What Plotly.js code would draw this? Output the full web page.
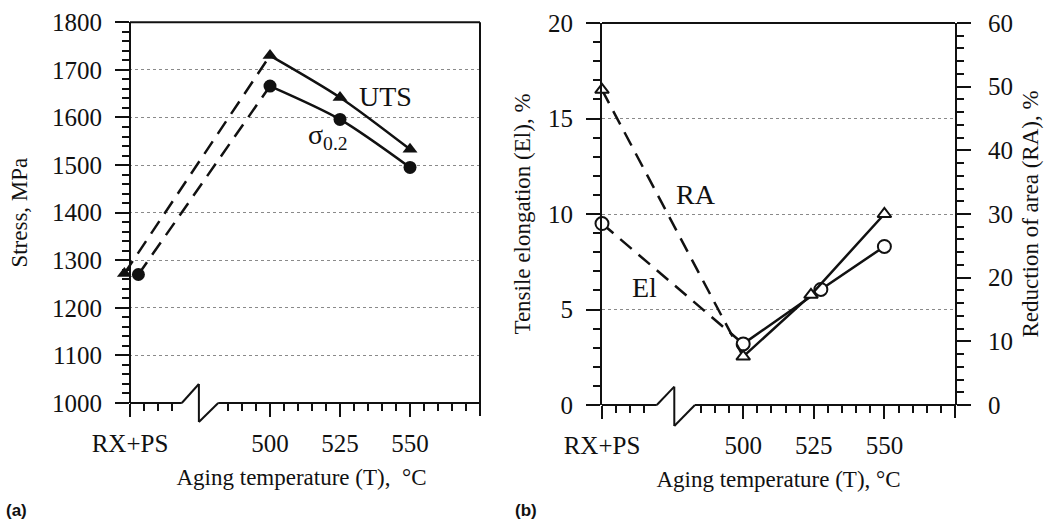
<!DOCTYPE html>
<html>
<head>
<meta charset="utf-8">
<script src="https://cdn.plot.ly/plotly-3.0.1.min.js"></script>
<style>
  html, body { margin: 0; padding: 0; background: #fff; }
  #chart { width: 1047px; height: 525px; }
</style>
</head>
<body>
<div id="chart"></div>
<script>
// Aging-temperature series. The as-received state (RX+PS) sits in the slot at 450 on the
// temperature axis; points that share a slot are nudged apart a little, as in the figure.
const tickSlots = [450, 500, 525, 550];
const tickLabels = ['RX+PS', '500', '525', '550'];

// (a) strength, MPa
const utsT = [448, 500, 525, 550];
const uts = [1272, 1730, 1642, 1533];
const ysT = [453, 500, 525, 550];
const ys = [1270, 1666, 1596, 1495];

// (b) ductility, %
const elT = [450, 500, 527.5, 550];
const el = [9.5, 3.2, 6.05, 8.3];
const raT = [450, 500, 524, 550];
const ra = [49.5, 7.6, 17.3, 30];

const W = 1047, H = 525;
const INK = '#111';
const SERIF = 'Liberation Serif, Times New Roman, serif';

// panel geometry (pixels)
const A = { left: 123, right: 480, top: 22.3, bottom: 403, xr: [447.5, 575], yr: [1000, 1800], axisX: 450 };
const B = { left: 602, right: 955, top: 23, bottom: 405, xr: [450, 575], yr: [0, 20], axisX: 450 };

// fraction helpers for drawing the broken axis and frame in axis-domain units
const dx = (P, v) => (v - P.xr[0]) / (P.xr[1] - P.xr[0]);
const dy = (P, v) => (v - P.yr[0]) / (P.yr[1] - P.yr[0]);
const TAIL = 13; // end tick below the axis at the right edge, px

const minorX = [455, 460, 465, 485, 490, 495, 505, 510, 515, 520, 530, 535, 540, 545, 555, 560, 565, 570];

function xAxis(P, anchor, titleText) {
  return {
    domain: [P.left / W, P.right / W], range: P.xr, anchor: anchor,
    showline: false, showgrid: false, zeroline: false,
    tickmode: 'array', tickvals: tickSlots, ticktext: tickLabels,
    ticks: 'outside', ticklen: 13, tickwidth: 2, tickcolor: INK,
    minor: { tickmode: 'array', tickvals: minorX, ticks: 'outside', ticklen: 7, tickwidth: 2, tickcolor: INK, showgrid: false },
    tickfont: { family: SERIF, size: 25, color: INK },
    ticklabelstandoff: 5,
    automargin: true,
    title: { text: titleText, font: { family: SERIF, size: 23, color: INK }, standoff: 12 }
  };
}

const dash = '15px,9px';

const traces = [
  // (a) dashed links from RX+PS to 500 °C
  { x: utsT.slice(0, 2), y: uts.slice(0, 2), xaxis: 'x', yaxis: 'y', mode: 'lines', line: { color: INK, width: 2.5, dash: dash } },
  { x: ysT.slice(0, 2), y: ys.slice(0, 2), xaxis: 'x', yaxis: 'y', mode: 'lines', line: { color: INK, width: 2.5, dash: dash } },
  // (a) aged states
  { x: utsT.slice(1), y: uts.slice(1), xaxis: 'x', yaxis: 'y', mode: 'lines', line: { color: INK, width: 2.5, shape: 'spline', smoothing: 0.8 } },
  { x: ysT.slice(1), y: ys.slice(1), xaxis: 'x', yaxis: 'y', mode: 'lines', line: { color: INK, width: 2.5, shape: 'spline', smoothing: 0.8 } },
  { x: utsT, y: uts, xaxis: 'x', yaxis: 'y', mode: 'markers', cliponaxis: false, marker: { symbol: 'triangle-up', size: 13, color: INK } },
  { x: ysT, y: ys, xaxis: 'x', yaxis: 'y', mode: 'markers', cliponaxis: false, marker: { symbol: 'circle', size: 13, color: INK } },

  // (b) elongation (left axis) and reduction of area (right axis)
  { x: elT.slice(0, 2), y: el.slice(0, 2), xaxis: 'x2', yaxis: 'y2', mode: 'lines', line: { color: INK, width: 2.5, dash: dash } },
  { x: raT.slice(0, 2), y: ra.slice(0, 2), xaxis: 'x2', yaxis: 'y3', mode: 'lines', line: { color: INK, width: 2.5, dash: dash } },
  { x: elT.slice(1), y: el.slice(1), xaxis: 'x2', yaxis: 'y2', mode: 'lines', line: { color: INK, width: 2.5 } },
  { x: raT.slice(1), y: ra.slice(1), xaxis: 'x2', yaxis: 'y3', mode: 'lines', line: { color: INK, width: 2.5 } },
  { x: raT, y: ra, xaxis: 'x2', yaxis: 'y3', mode: 'markers', cliponaxis: false, marker: { symbol: 'triangle-up', size: 12, color: '#fff', line: { color: INK, width: 2 } } },
  { x: elT, y: el, xaxis: 'x2', yaxis: 'y2', mode: 'markers', cliponaxis: false, marker: { symbol: 'circle', size: 13, color: '#fff', line: { color: INK, width: 2 } } }
];

// broken x axis line with the zigzag, the top frame and the end tick at the right edge
function frameShapes(P, xr, yr, gapFrom, peakX, peakY, lowY, gapTo) {
  const s = { type: 'line', xref: xr, yref: yr, line: { color: INK, width: 2 }, layer: 'above' };
  const y0 = dy(P, P.yr[0]);
  const tail = -TAIL / (P.bottom - P.top);
  return [
    Object.assign({}, s, { x0: dx(P, P.axisX), x1: dx(P, gapFrom), y0: y0, y1: y0 }),
    Object.assign({}, s, { x0: dx(P, gapFrom), x1: dx(P, peakX), y0: y0, y1: dy(P, peakY) }),
    Object.assign({}, s, { x0: dx(P, peakX), x1: dx(P, peakX), y0: dy(P, peakY), y1: dy(P, lowY) }),
    Object.assign({}, s, { x0: dx(P, peakX), x1: dx(P, gapTo), y0: dy(P, lowY), y1: y0 }),
    Object.assign({}, s, { x0: dx(P, gapTo), x1: 1, y0: y0, y1: y0 }),
    Object.assign({}, s, { x0: dx(P, P.axisX), x1: 1, y0: 1, y1: 1 }),
    Object.assign({}, s, { x0: 1, x1: 1, y0: tail, y1: 0 })
  ];
}

const shapes = []
  .concat(frameShapes(A, 'x domain', 'y domain', 468.5, 474.6, 1040, 960, 481.5))
  .concat([{ type: 'line', xref: 'x domain', yref: 'y domain', x0: 1, x1: 1, y0: 0, y1: 1, line: { color: INK, width: 2 }, layer: 'above' }])
  .concat(frameShapes(B, 'x2 domain', 'y2 domain', 469.4, 475.6, 0.96, -1.1, 482.9));

const tickY = (extra) => Object.assign({
  showline: true, linewidth: 2, linecolor: INK, zeroline: false,
  ticks: 'outside', ticklen: 14, tickwidth: 2, tickcolor: INK,
  tickfont: { family: SERIF, size: 25, color: INK },
  ticklabelstandoff: 8, automargin: true
}, extra);

const layout = {
  width: W, height: H,
  margin: { l: 0, r: 0, t: 0, b: 0, autoexpand: false },
  paper_bgcolor: '#fff', plot_bgcolor: '#fff',
  showlegend: false,
  font: { family: SERIF, size: 22, color: INK },
  xaxis: xAxis(A, 'y', 'Aging temperature (T),\u00a0\u00a0°C'),
  yaxis: tickY({
    domain: [1 - A.bottom / H, 1 - A.top / H], range: A.yr, anchor: 'free', position: 130 / W,
    dtick: 100, tick0: 1000,
    minor: { dtick: 20, tick0: 1000, ticks: 'outside', ticklen: 7, tickwidth: 2, tickcolor: INK, showgrid: false },
    showgrid: true, gridcolor: '#8a8a8a', gridwidth: 1, griddash: 'dot',
    title: { text: 'Stress, MPa', font: { family: SERIF, size: 23, color: INK }, standoff: 17 }
  }),
  xaxis2: xAxis(B, 'y2', 'Aging temperature (T), °C'),
  yaxis2: tickY({
    domain: [1 - B.bottom / H, 1 - B.top / H], range: B.yr, anchor: 'x2',
    dtick: 5, tick0: 0,
    minor: { dtick: 1, tick0: 0, ticks: 'outside', ticklen: 7, tickwidth: 2, tickcolor: INK, showgrid: false },
    showgrid: true, gridcolor: '#8a8a8a', gridwidth: 1, griddash: 'dot',
    title: { text: 'Tensile elongation (El), %', font: { family: SERIF, size: 23, color: INK }, standoff: 11 }
  }),
  yaxis3: tickY({
    domain: [1 - B.bottom / H, 1 - B.top / H], range: [0, 60], anchor: 'x2', overlaying: 'y2', side: 'right',
    dtick: 10, tick0: 0,
    minor: { dtick: 2, tick0: 0, ticks: 'outside', ticklen: 7, tickwidth: 2, tickcolor: INK, showgrid: false },
    showgrid: false, ticklabelstandoff: 12,
    title: { text: 'Reduction of area (RA), %', font: { family: SERIF, size: 23, color: INK }, standoff: 10 }
  }),
  shapes: shapes,
  annotations: [
    { x: 541.4, y: 1645, xref: 'x', yref: 'y', text: 'UTS', showarrow: false, font: { family: SERIF, size: 28, color: INK } },
    { x: 520.7, y: 1560, xref: 'x', yref: 'y', text: 'σ<sub>0.2</sub>', showarrow: false, font: { family: SERIF, size: 28, color: INK } },
    { x: 483.3, y: 11.0, xref: 'x2', yref: 'y2', text: 'RA', showarrow: false, font: { family: SERIF, size: 28, color: INK } },
    { x: 465.2, y: 6.13, xref: 'x2', yref: 'y2', text: 'El', showarrow: false, font: { family: SERIF, size: 28, color: INK } },
    { x: 4 / W, y: 0, xref: 'paper', yref: 'paper', xanchor: 'left', yanchor: 'bottom', yshift: 3, text: '<b>(a)</b>', showarrow: false, font: { family: 'Liberation Sans, Arial, sans-serif', size: 17, color: INK } },
    { x: 513 / W, y: 0, xref: 'paper', yref: 'paper', xanchor: 'left', yanchor: 'bottom', yshift: 3, text: '<b>(b)</b>', showarrow: false, font: { family: 'Liberation Sans, Arial, sans-serif', size: 17, color: INK } }
  ]
};

Plotly.newPlot('chart', traces, layout, { staticPlot: true, displayModeBar: false });
</script>
</body>
</html>
